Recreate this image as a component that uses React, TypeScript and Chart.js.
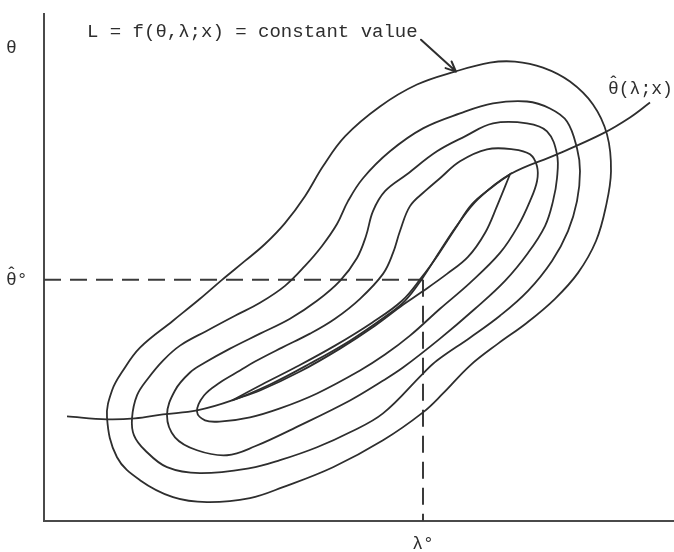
import { useEffect, useRef } from 'react';
import { Chart, registerables } from 'chart.js';

Chart.register(...registerables);

type Pt = [number, number];

// Likelihood contours L(θ, λ; x) = const, outermost first (λ across, θ up).
const contourOuter: Pt[] = [
  [63, 104], [68, 131], [79, 151], [96, 174], [129, 201], [156, 223], [178, 242], [201, 261],
  [221, 278], [241, 299], [261, 326], [279, 356], [301, 386], [336, 416], [373, 438], [411, 451],
  [446, 460], [471, 461], [499, 455], [526, 441], [549, 418], [563, 388], [567, 351], [562, 316],
  [552, 281], [534, 249], [511, 223], [483, 199], [454, 178], [426, 156], [399, 128], [379, 109],
  [339, 81], [289, 54], [239, 34], [206, 23], [163, 19], [129, 24], [96, 41], [73, 64],
];

const contourSecond: Pt[] = [
  [88, 103], [93, 126], [104, 143], [119, 161], [136, 176], [163, 191], [191, 206], [216, 219],
  [241, 236], [261, 256], [278, 276], [293, 298], [304, 321], [319, 344], [346, 371], [379, 394],
  [416, 409], [449, 419], [483, 421], [506, 414], [523, 401], [533, 374], [536, 351], [533, 321],
  [524, 291], [508, 261], [484, 231], [456, 206], [426, 184], [393, 161], [379, 148], [339, 108],
  [306, 89], [273, 74], [236, 61], [206, 53], [156, 48], [123, 54], [101, 71], [90, 86],
];

const contourThird: Pt[] = [
  [123, 106], [131, 131], [146, 149], [161, 159], [186, 173], [216, 188], [246, 203], [273, 221],
  [296, 241], [313, 264], [322, 286], [329, 311], [341, 331], [363, 348], [393, 371], [421, 386],
  [449, 399], [483, 399], [503, 391], [513, 368], [513, 344], [509, 321], [501, 296], [484, 269],
  [461, 241], [431, 213], [396, 183], [359, 154], [336, 139], [306, 121], [256, 96], [211, 75],
  [183, 66], [153, 71], [131, 84],
];

const contourFourth: Pt[] = [
  [153, 110], [160, 126], [176, 139], [196, 151], [211, 160], [238, 174], [266, 188], [291, 203],
  [316, 223], [339, 248], [349, 269], [356, 291], [366, 316], [381, 331], [396, 344], [416, 361],
  [443, 373], [469, 373], [486, 368], [493, 356], [493, 341], [486, 321], [474, 296], [456, 269],
  [426, 239], [396, 213], [366, 186], [341, 167], [316, 151], [273, 128], [236, 113], [206, 104],
  [178, 100], [161, 101],
];

// Innermost leaf: pointed at both ends (the repeated point keeps the far tip sharp).
const contourInner: Pt[] = [
  [188, 121], [216, 131], [256, 150], [296, 173], [331, 196], [359, 217], [378, 230], [403, 248],
  [424, 265], [441, 289], [453, 316], [466, 348], [466, 348], [448, 335], [428, 318], [411, 293],
  [394, 267], [378, 245], [358, 221], [328, 199], [291, 176], [253, 155], [218, 137], [188, 121],
];

// Ridge line θ̂(λ; x)
const thetaHatCurve: Pt[] = [
  [23, 105], [63, 102], [91, 103], [119, 107], [153, 111], [188, 121], [226, 137], [266, 158],
  [306, 181], [341, 205], [361, 221], [378, 243], [396, 271], [414, 298], [434, 323], [466, 348],
  [513, 368], [559, 389], [586, 405], [606, 420],
];

const LAMBDA_0 = 379;
const THETA_HAT_0 = 242;
const THETA_TITLE_AT = 474;

const xTickValues = [LAMBDA_0];
const xTickLabels = ['λ°'];
const yTickValues = [THETA_HAT_0, THETA_TITLE_AT];
const yTickLabels = ['θ̂°', 'θ'];

const contourLabel = 'L = f(θ,λ;x) = constant value';
const contourLabelAt: Pt = [43, 491];
const arrowFrom: Pt = [377, 483];
const arrowTo: Pt = [412, 451];
const curveLabel = 'θ̂(λ;x)';
const curveLabelAt: Pt = [564, 433];

const INK = '#2e2e2e';
const AXIS = '#4a4a4a';
const TYPE_FONT = '"Liberation Mono", "DejaVu Sans Mono", monospace';
const HAT = '\u0302';

const toXY = (pts: Pt[]) => pts.map(([x, y]) => ({ x, y }));
const stripHat = (s: string) => s.split(HAT).join('');

// Draw text left-aligned, placing a circumflex over every character that
// carries a combining hat (canvas fonts here do not position the mark).
function drawHatted(ctx: CanvasRenderingContext2D, text: string, x: number, y: number, size: number) {
  const plain = stripHat(text);
  ctx.textAlign = 'left';
  ctx.textBaseline = 'middle';
  ctx.fillText(plain, x, y);
  const charW = ctx.measureText('M').width;
  let idx = 0;
  for (let i = 0; i < text.length; i++) {
    if (text[i] === HAT) {
      ctx.save();
      ctx.textAlign = 'center';
      ctx.fillText('ˆ', x + (idx - 0.5) * charW, y - size * 0.28);
      ctx.restore();
    } else {
      idx++;
    }
  }
}

// Closed smooth loop: wrap one point on each side so the join is smooth,
// and hide the two helper segments.
function closedContour(pts: Pt[]) {
  const n = pts.length;
  const data = toXY([pts[n - 1], ...pts, pts[0], pts[1]]);
  const last = data.length - 2;
  return {
    data,
    borderColor: INK,
    borderWidth: 1.8,
    tension: 0.38,
    showLine: true,
    pointRadius: 0,
    segment: {
      borderColor: (ctx: any) =>
        ctx.p0DataIndex === 0 || ctx.p0DataIndex === last ? 'rgba(0,0,0,0)' : undefined,
    },
  };
}

function openCurve(pts: Pt[], extra: Record<string, unknown> = {}) {
  return {
    data: toXY(pts),
    borderColor: INK,
    borderWidth: 1.8,
    tension: 0.38,
    showLine: true,
    pointRadius: 0,
    ...extra,
  };
}

const annotationPlugin = {
  id: 'figureAnnotations',
  afterDraw(chart: any) {
    const { ctx, scales } = chart;
    const px = (p: Pt) => [scales.x.getPixelForValue(p[0]), scales.y.getPixelForValue(p[1])];
    ctx.save();
    ctx.fillStyle = INK;
    ctx.strokeStyle = INK;

    ctx.font = `19px ${TYPE_FONT}`;
    const [lx, ly] = px(contourLabelAt);
    drawHatted(ctx, contourLabel, lx, ly, 19);

    ctx.font = `18px ${TYPE_FONT}`;
    const [cx, cy] = px(curveLabelAt);
    drawHatted(ctx, curveLabel, cx, cy, 18);

    // hats on the θ-axis tick labels (the tick text itself is drawn by the scale)
    const yScale = scales.y;
    yScale.ticks.forEach((t: any, i: number) => {
      const label = yTickLabels[i];
      if (!label || !label.includes(HAT)) return;
      const y = yScale.getPixelForValue(t.value);
      const charW = ctx.measureText('M').width;
      ctx.textAlign = 'center';
      ctx.textBaseline = 'middle';
      ctx.fillText('ˆ', yScale.left + charW * 0.5, y - 18 * 0.28);
    });

    // arrow pointing at the outermost contour
    const [ax, ay] = px(arrowFrom);
    const [bx, by] = px(arrowTo);
    ctx.lineWidth = 2;
    ctx.lineCap = 'round';
    ctx.beginPath();
    ctx.moveTo(ax, ay);
    ctx.lineTo(bx, by);
    const ang = Math.atan2(by - ay, bx - ax);
    const head = 11;
    for (const d of [-0.42, 0.42]) {
      ctx.moveTo(bx, by);
      ctx.lineTo(bx - head * Math.cos(ang + d), by - head * Math.sin(ang + d));
    }
    ctx.stroke();
    ctx.restore();
  },
};

export default function App() {
  const canvasRef = useRef<HTMLCanvasElement>(null);

  useEffect(() => {
    document.body.style.margin = '0';
    const canvas = canvasRef.current;
    if (!canvas) return;

    const dashed = { tension: 0, borderDash: [17, 9], borderWidth: 2, borderColor: '#3a3a3a' };

    const chart = new Chart(canvas, {
      type: 'scatter',
      data: {
        datasets: [
          closedContour(contourOuter),
          closedContour(contourSecond),
          closedContour(contourThird),
          closedContour(contourFourth),
          openCurve(contourInner),
          openCurve(thetaHatCurve),
          openCurve([[0, THETA_HAT_0], [LAMBDA_0, THETA_HAT_0]], dashed),
          openCurve([[LAMBDA_0, THETA_HAT_0], [LAMBDA_0, 0]], dashed),
        ] as any,
      },
      options: {
        responsive: false,
        animation: false,
        devicePixelRatio: 1,
        layout: { padding: { left: 6, top: 12, right: 0, bottom: 0 } },
        plugins: { legend: { display: false }, tooltip: { enabled: false } },
        scales: {
          x: {
            type: 'linear',
            min: 0,
            max: 630,
            grid: { display: false, drawTicks: false },
            border: { display: true, color: AXIS, width: 2 },
            afterFit: (s: any) => { s.height = 31; },
            afterBuildTicks: (s: any) => { s.ticks = xTickValues.map((value) => ({ value })); },
            ticks: {
              padding: 12,
              color: INK,
              autoSkip: false,
              maxRotation: 0,
              font: { family: TYPE_FONT, size: 18 },
              callback: (_v: any, i: number) => xTickLabels[i],
            },
          },
          y: {
            type: 'linear',
            min: 0,
            max: 509,
            grid: { display: false, drawTicks: false },
            border: { display: true, color: AXIS, width: 2 },
            afterFit: (s: any) => { s.width = 38; },
            afterBuildTicks: (s: any) => { s.ticks = yTickValues.map((value) => ({ value })); },
            ticks: {
              crossAlign: 'far',
              color: INK,
              autoSkip: false,
              font: { family: TYPE_FONT, size: 18 },
              callback: (_v: any, i: number) => stripHat(yTickLabels[i]),
            },
          },
        },
      },
      plugins: [annotationPlugin],
    });

    return () => chart.destroy();
  }, []);

  return (
    <div style={{ position: 'absolute', left: 0, top: 0, width: 674, height: 552, background: '#fff' }}>
      <canvas ref={canvasRef} width={674} height={552} style={{ display: 'block' }} />
    </div>
  );
}
